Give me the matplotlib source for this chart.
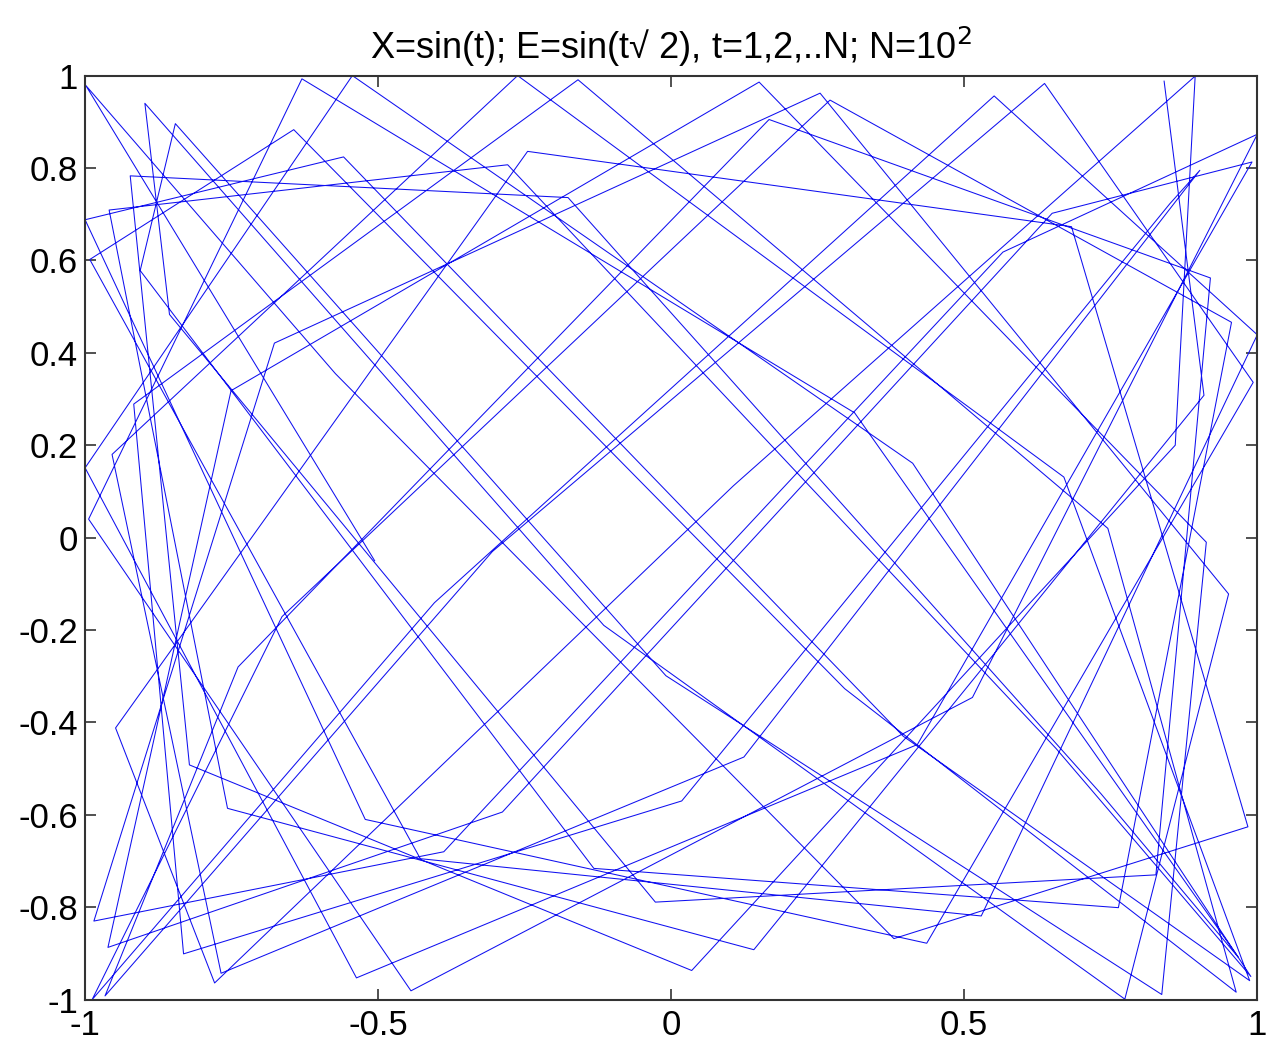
import matplotlib
matplotlib.use("Agg")
import matplotlib.pyplot as plt

# X = sin(t), t = 1..100
x_vals = [0.841, 0.909, 0.141, -0.757, -0.959, -0.279, 0.657, 0.989, 0.412, -0.544,
          -1.000, -0.537, 0.420, 0.991, 0.650, -0.288, -0.961, -0.751, 0.150, 0.913,
          0.837, -0.009, -0.846, -0.906, -0.132, 0.763, 0.956, 0.271, -0.664, -0.988,
          -0.404, 0.551, 1.000, 0.529, -0.428, -0.992, -0.644, 0.296, 0.964, 0.745,
          -0.159, -0.917, -0.832, 0.018, 0.851, 0.902, 0.124, -0.768, -0.954, -0.262,
          0.670, 0.987, 0.396, -0.559, -1.000, -0.522, 0.436, 0.993, 0.637, -0.305,
          -0.966, -0.739, 0.167, 0.920, 0.827, -0.027, -0.856, -0.898, -0.115, 0.774,
          0.951, 0.254, -0.677, -0.985, -0.388, 0.566, 1.000, 0.514, -0.444, -0.994,
          -0.630, 0.313, 0.968, 0.733, -0.176, -0.923, -0.822, 0.035, 0.860, 0.894,
          0.106, -0.779, -0.948, -0.245, 0.683, 0.984, 0.380, -0.573, -0.999, -0.506]
# E = sin(t*sqrt(2))
e_vals = [0.988, 0.308, -0.892, -0.586, 0.709, 0.807, -0.457, -0.950, 0.161, 1.000,
          0.151, -0.953, -0.448, 0.813, 0.702, -0.594, -0.887, 0.318, 0.986, -0.010,
          -0.989, -0.299, 0.896, 0.578, -0.716, -0.801, 0.466, 0.947, -0.171, -1.000,
          -0.141, 0.956, 0.439, -0.819, -0.695, 0.602, 0.883, -0.327, -0.984, 0.020,
          0.991, 0.289, -0.901, -0.570, 0.723, 0.795, -0.475, -0.943, 0.180, 1.000,
          0.131, -0.959, -0.430, 0.824, 0.688, -0.610, -0.878, 0.336, 0.983, -0.030,
          -0.992, -0.280, 0.905, 0.562, -0.730, -0.789, 0.483, 0.940, -0.190, -0.999,
          -0.122, 0.962, 0.421, -0.830, -0.680, 0.618, 0.873, -0.346, -0.981, 0.040,
          0.993, 0.270, -0.909, -0.554, 0.736, 0.783, -0.492, -0.937, 0.200, 0.999,
          0.112, -0.964, -0.412, 0.836, 0.673, -0.626, -0.868, 0.355, 0.979, -0.050]

x_ticks = [-1, -0.5, 0, 0.5, 1]
x_labels = ['-1', '-0.5', '0', '0.5', '1']
y_ticks = [-1, -0.8, -0.6, -0.4, -0.2, 0, 0.2, 0.4, 0.6, 0.8, 1]
y_labels = ['-1', '-0.8', '-0.6', '-0.4', '-0.2', '0', '0.2', '0.4', '0.6', '0.8', '1']

plt.rcParams['font.family'] = ['Liberation Sans', 'DejaVu Sans']

fig = plt.figure(figsize=(12.7, 10.5), dpi=100)
ax = fig.add_axes([0.067, 0.048, 0.923, 0.880])
ax.plot(x_vals, e_vals, color='#1010f0', lw=0.75)

ax.set_xlim(-1, 1)
ax.set_ylim(-1, 1)
ax.set_xticks(x_ticks)
ax.set_xticklabels(x_labels)
ax.set_yticks(y_ticks)
ax.set_yticklabels(y_labels)
ax.tick_params(direction='in', top=True, right=True, length=8, width=1.2,
               labelsize=25, color='#333333')
ax.tick_params(axis='x', pad=7)
ax.tick_params(axis='y', pad=5)
for s in ax.spines.values():
    s.set_color('#333333')
    s.set_linewidth(1.5)

ax.set_title('X=sin(t); E=sin(t\u221a 2), t=1,2,..N; N=10$^2$',
             fontsize=26, pad=12)

fig.savefig('out.png')
